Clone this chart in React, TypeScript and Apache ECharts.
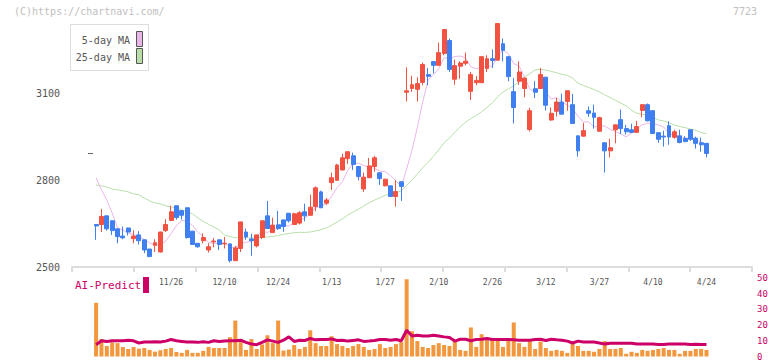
import React, { useEffect, useRef } from "react";
import * as echarts from "echarts";

const dates = [
  "11/6","11/7","11/8","11/11","11/12","11/13","11/14","11/15","11/18","11/19",
  "11/20","11/21","11/22","11/25","11/26","11/27","11/28","11/29","12/2","12/3",
  "12/4","12/5","12/6","12/9","12/10","12/11","12/12","12/13","12/16","12/17",
  "12/18","12/19","12/20","12/23","12/24","12/25","12/26","12/27","12/30","1/6",
  "1/7","1/8","1/9","1/10","1/13","1/14","1/15","1/16","1/17","1/20",
  "1/21","1/22","1/23","1/24","1/27","1/28","1/29","1/30","1/31","2/3",
  "2/4","2/5","2/6","2/7","2/10","2/12","2/13","2/14","2/17","2/18",
  "2/19","2/20","2/21","2/25","2/26","2/27","2/28","3/3","3/4","3/5",
  "3/6","3/7","3/10","3/11","3/12","3/13","3/14","3/17","3/18","3/19",
  "3/21","3/24","3/25","3/26","3/27","3/28","3/31","4/1","4/2","4/3",
  "4/4","4/7","4/8","4/9","4/10","4/11","4/14","4/15","4/16","4/17",
  "4/18","4/21","4/22","4/23","4/24"
];

const labelDates = ["11/26","12/10","12/24","1/13","1/27","2/10","2/26","3/12","3/27","4/10","4/24"];

const opens = [
  2647,2647,2677,2660,2632,2607,2635,2598,2611,2594,
  2562,2575,2552,2626,2661,2712,2695,2705,2624,2582,
  2591,2559,2587,2594,2580,2580,2522,2564,2621,2597,
  2573,2602,2677,2619,2646,2663,2686,2647,2652,2691,
  2679,2709,2760,2721,2792,2800,2836,2875,2885,2848,
  2770,2809,2848,2826,2781,2781,2744,2795,3105,3118,
  3115,3139,3166,3211,3198,3239,3284,3150,3195,3205,
  3108,3138,3138,3187,3221,3216,3273,3228,3107,3143,
  3118,2976,3117,3118,3157,3009,3039,3071,3073,3062,
  2954,2953,3041,3033,2970,2930,2902,2975,3010,2979,
  2975,2966,3042,3062,3041,2965,2953,2989,2949,2954,
  2945,2975,2946,2930,2928
];
const closes = [
  2642,2675,2632,2626,2605,2601,2621,2607,2591,2559,
  2536,2584,2621,2647,2691,2671,2679,2602,2578,2570,
  2602,2570,2590,2578,2582,2522,2566,2656,2604,2591,
  2611,2660,2633,2645,2633,2640,2660,2684,2688,2677,
  2707,2774,2705,2732,2809,2853,2878,2899,2855,2813,
  2811,2850,2878,2806,2804,2744,2761,2779,3110,3131,
  3135,3201,3160,3198,3242,3322,3184,3197,3206,3212,
  3166,3146,3228,3221,3215,3343,3250,3159,3052,3175,
  3154,3041,3105,3166,3060,3032,3071,3029,3110,2997,
  2902,2972,3032,3018,3017,2902,2913,2992,2979,2968,
  2966,2986,3062,3006,2962,2942,2950,2950,2968,2931,
  2934,2942,2928,2923,2893
];
const lows = [
  2594,2621,2626,2611,2582,2596,2609,2582,2578,2548,
  2535,2552,2550,2621,2660,2664,2664,2598,2577,2567,
  2582,2550,2568,2559,2564,2516,2521,2552,2594,2539,
  2568,2597,2632,2618,2628,2622,2654,2646,2647,2658,
  2678,2693,2704,2715,2767,2799,2834,2857,2836,2800,
  2760,2808,2830,2784,2779,2742,2709,2729,3073,3106,
  3073,3129,3129,3170,3197,3233,3175,3131,3152,3198,
  3078,3129,3137,3175,3189,3215,3212,3143,2997,3131,
  3087,2969,3085,3117,3042,3006,3021,3028,3041,2996,
  2882,2951,3020,2979,2969,2827,2879,2928,2960,2958,
  2965,2965,3018,3004,2961,2930,2917,2923,2944,2928,
  2933,2937,2910,2899,2879
];
const highs = [
  2648,2701,2678,2661,2633,2640,2636,2627,2624,2595,
  2563,2596,2622,2665,2712,2713,2697,2706,2625,2583,
  2616,2582,2600,2595,2604,2581,2573,2657,2633,2615,
  2612,2661,2729,2671,2694,2664,2687,2688,2693,2719,
  2750,2779,2764,2739,2827,2857,2892,2900,2896,2849,
  2827,2878,2885,2827,2805,2782,2800,2796,3191,3162,
  3157,3208,3189,3212,3277,3323,3291,3218,3212,3242,
  3175,3161,3229,3233,3253,3344,3291,3229,3154,3212,
  3155,3051,3143,3189,3158,3052,3085,3100,3111,3099,
  2955,2999,3056,3062,3020,2931,2944,2993,3045,2992,
  2996,3006,3063,3066,3042,2966,2972,3004,2975,2975,
  2953,2976,2951,2948,2929
];

// moving-average values before a full window is available
const ma5Head = [2809, 2767, 2732, 2687];
const ma25Head = [
  2784,2781,2777,2770,2767,2764,2760,2753,2750,2739,
  2729,2722,2718,2712,2708,2705,2698,2691,2684,2670,
  2658,2648,2638,2628
];

const volume = [
  34.2,11.1,6.7,9,8.5,6.1,4.8,6.1,5,5.4,
  4.2,3.1,4,4.8,5.4,2.9,2.3,4.2,2.3,2.3,
  3.6,6.1,5.4,5.4,5.4,12.3,22.9,9.2,4.2,11.1,
  4.8,7.7,13.5,8.5,22.9,3.8,4.4,7.3,4.8,6.1,
  16.7,8.5,6.7,6.7,12.9,7.9,6.7,5.4,6.7,7.9,
  6.1,4.2,4.8,7.9,5.4,6.1,7.9,9.2,49.2,16.1,
  9.8,6.1,5.4,7.3,8.5,7.3,6.7,9.8,4.2,3.6,
  18.5,6.1,14.2,11.1,11.1,11.1,6.1,10.4,21.7,8.5,
  6.1,9.8,4.8,9.5,5.4,3.6,4.2,3.6,2.3,7.9,
  6.7,3.6,3.6,3,4.8,9.8,4.8,4.8,5.4,1.7,
  3,2.3,4.2,3.6,4.2,4.8,5.4,4.2,4.2,1.7,
  3.6,3.6,4.8,4.8,4.2
];

const aiPredict = [
  7.5,10,9.6,10,10,10,10.4,10,8.6,9.2,
  9.2,9.4,9.2,9.8,10.8,10,9.6,9.2,9.2,9.0,
  9.4,9.0,10,9.6,9.8,10,10,10.4,9,7.9,
  7.5,9,10.6,9.8,9,10.4,12.5,9.6,10.4,10.2,
  11.5,10.6,10.8,10.8,11.2,10.2,10.4,9.8,10.2,10.6,
  9.6,9.8,10.2,10.8,10.8,10.4,10.8,10,16.7,13.1,
  13.5,13.1,13.1,13.5,13.1,12.5,12.1,9.8,11,11,
  10,10.8,11,11.5,10.8,10.8,10.8,10.8,10.6,10.4,
  10.4,10.4,10.8,11,10.2,11,10.6,10.4,9.8,8.6,
  9.8,9.2,9.2,9.2,8.6,7.9,8.4,8.4,8.4,8.4,
  8.4,8,8,8,8,7.6,7.6,8,8,8,
  8,7.6,7.8,7.6,7.6
];

const LEAD = 4;
const TRAIL = 8;

const FONT = "'DejaVu Sans Mono', monospace";
const UP = "#f25241";
const DOWN = "#3f7fef";
const MAGENTA = "#cc0066";

function movingAverage(vals: number[], n: number, head: number[]) {
  return vals.map((_, i) => {
    if (i < n - 1) return head[i];
    let s = 0;
    for (let k = i - n + 1; k <= i; k++) s += vals[k];
    return Math.round((s / n) * 10) / 10;
  });
}

function pad<T>(arr: T[], empty: any) {
  return [
    ...Array.from({ length: LEAD }, () => empty),
    ...arr,
    ...Array.from({ length: TRAIL }, () => empty),
  ];
}

export default function App() {
  const ref = useRef<HTMLDivElement>(null);

  useEffect(() => {
    if (!ref.current) return;
    const chart = echarts.init(ref.current, undefined, { renderer: "svg" });

    const cats = [
      ...Array.from({ length: LEAD }, (_, i) => `pa${i}`),
      ...dates,
      ...Array.from({ length: TRAIL }, (_, i) => `pz${i}`),
    ];
    const candles = pad(
      dates.map((_, i) => [opens[i], closes[i], lows[i], highs[i]]),
      ["-", "-", "-", "-"]
    );
    const ma5 = pad(movingAverage(closes, 5, ma5Head), "-");
    const ma25 = pad(movingAverage(closes, 25, ma25Head), "-");

    const option: any = {
      animation: false,
      backgroundColor: "#ffffff",
      textStyle: { fontFamily: FONT },
      grid: [
        { left: 72, width: 680, top: 7, height: 260 },
        { left: 72, width: 680, top: 278, height: 80 },
      ],
      xAxis: [
        {
          type: "category",
          gridIndex: 0,
          data: cats,
          position: "bottom",
          boundaryGap: true,
          axisLine: { show: false },
          axisTick: { show: false },
          splitLine: { show: false },
          axisLabel: {
            interval: (_i: number, v: string) => labelDates.indexOf(v) >= 0,
            color: "#555",
            fontFamily: FONT,
            fontSize: 8,
            margin: 11,
          },
        },
        {
          type: "value",
          gridIndex: 0,
          position: "bottom",
          min: 0,
          max: 11,
          interval: 1,
          axisLine: { show: true, lineStyle: { color: "#dddddd", width: 2 } },
          axisTick: { show: true, length: 5, lineStyle: { color: "#dddddd", width: 2 } },
          axisLabel: { show: false },
          splitLine: { show: false },
        },
        {
          type: "category",
          gridIndex: 1,
          data: cats,
          boundaryGap: true,
          show: false,
        },
      ],
      yAxis: [
        {
          type: "value",
          gridIndex: 0,
          min: 2500,
          max: 3400,
          interval: 300,
          axisLine: { show: false },
          axisTick: { show: false },
          splitLine: { show: false },
          axisLabel: {
            showMaxLabel: false,
            formatter: (v: number) => String(v),
            color: "#555",
            fontFamily: FONT,
            fontSize: 10,
            margin: 12,
          },
        },
        {
          type: "value",
          gridIndex: 1,
          position: "right",
          min: 0,
          max: 50,
          interval: 10,
          axisLine: { show: false },
          axisTick: { show: false },
          splitLine: { show: false },
          axisLabel: {
            color: MAGENTA,
            fontFamily: FONT,
            fontSize: 9,
            margin: 5,
          },
        },
      ],
      series: [
        {
          type: "line",
          name: "25-day MA",
          xAxisIndex: 0,
          yAxisIndex: 0,
          data: ma25,
          symbol: "none",
          lineStyle: { color: "#b9dfa9", width: 1 },
          z: 1,
        },
        {
          type: "line",
          name: "5-day MA",
          xAxisIndex: 0,
          yAxisIndex: 0,
          data: ma5,
          symbol: "none",
          lineStyle: { color: "#e9b6ea", width: 1 },
          z: 1,
        },
        {
          type: "candlestick",
          xAxisIndex: 0,
          yAxisIndex: 0,
          data: candles,
          barWidth: 4.4,
          itemStyle: {
            color: UP,
            color0: DOWN,
            borderColor: UP,
            borderColor0: DOWN,
            borderWidth: 1,
          },
          z: 3,
        },
        {
          type: "bar",
          xAxisIndex: 2,
          yAxisIndex: 1,
          data: pad(volume, "-"),
          barWidth: 4,
          itemStyle: { color: "#f2973e" },
        },
        {
          type: "line",
          name: "AI-Predict",
          xAxisIndex: 2,
          yAxisIndex: 1,
          data: pad(aiPredict, "-"),
          symbol: "none",
          lineStyle: { color: MAGENTA, width: 3 },
          z: 4,
        },
      ],
      graphic: [
        {
          type: "text",
          left: 14,
          top: 6,
          style: { text: "(C)https://chartnavi.com/", fill: "#c0c0c0", font: `10px ${FONT}` },
        },
        {
          type: "text",
          right: 15,
          top: 6,
          style: { text: "7723", fill: "#c0c0c0", font: `10px ${FONT}` },
        },
        {
          type: "line",
          shape: { x1: 88, y1: 153.5, x2: 93, y2: 153.5 },
          style: { stroke: "#666", lineWidth: 1 },
        },
        {
          type: "group",
          left: 70,
          top: 24,
          children: [
            {
              type: "rect",
              shape: { x: 0.5, y: 0.5, width: 78, height: 46 },
              style: { fill: "#ffffff", stroke: "#dddddd", lineWidth: 1 },
            },
            {
              type: "text",
              x: 60,
              y: 16,
              style: {
                text: "5-day MA",
                fill: "#555",
                font: `10px ${FONT}`,
                textAlign: "right",
                textVerticalAlign: "middle",
              },
            },
            {
              type: "rect",
              shape: { x: 66.5, y: 7.5, width: 6, height: 15 },
              style: { fill: "#e9b6ea", stroke: "#555", lineWidth: 1 },
            },
            {
              type: "text",
              x: 60,
              y: 33,
              style: {
                text: "25-day MA",
                fill: "#555",
                font: `10px ${FONT}`,
                textAlign: "right",
                textVerticalAlign: "middle",
              },
            },
            {
              type: "rect",
              shape: { x: 66.5, y: 24.5, width: 6, height: 15 },
              style: { fill: "#b9dfa9", stroke: "#555", lineWidth: 1 },
            },
          ],
        },
        {
          type: "text",
          left: 75,
          top: 280,
          style: { text: "AI-Predict", fill: MAGENTA, font: `11px ${FONT}` },
        },
        {
          type: "rect",
          left: 143,
          top: 277,
          shape: { x: 0, y: 0, width: 6, height: 16 },
          style: { fill: MAGENTA },
        },
      ],
    };

    chart.setOption(option);
    return () => chart.dispose();
  }, []);

  return (
    <div
      ref={ref}
      style={{ position: "fixed", left: 0, top: 0, width: 772, height: 361, background: "#fff" }}
    />
  );
}
